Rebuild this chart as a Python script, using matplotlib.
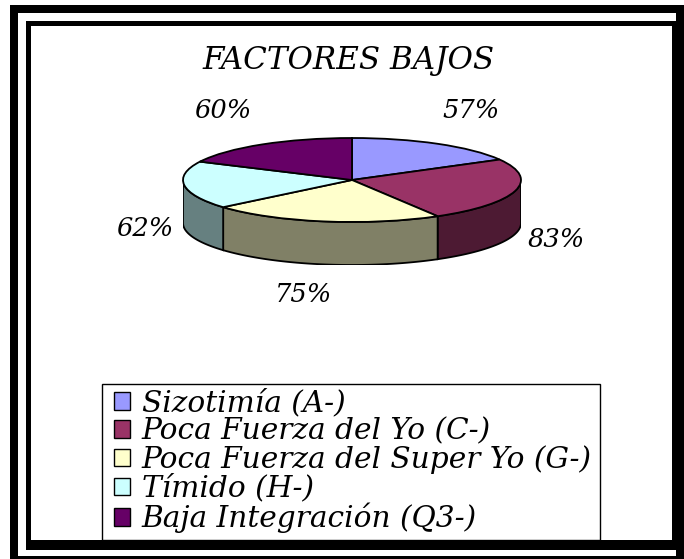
import numpy as np
import matplotlib
matplotlib.use('Agg')
import matplotlib.pyplot as plt
from matplotlib.patches import Rectangle, Polygon, Patch

# Data
categories = ['Sizotimía (A-)', 'Poca Fuerza del Yo (C-)', 'Poca Fuerza del Super Yo (G-)',
              'Tímido (H-)', 'Baja Integración (Q3-)']
values = [57, 83, 75, 62, 60]
pct_labels = ['57%', '83%', '75%', '62%', '60%']
colors = ['#9999FF', '#993366', '#FFFFCC', '#CCFFFF', '#660066']
wall_colors = ['#4D4D80', '#4D1A33', '#808066', '#668080', '#330033']
title = 'FACTORES BAJOS'

W, H = 684, 559
plt.rcParams['font.family'] = ['DejaVu Serif']
fig = plt.figure(figsize=(W / 100, H / 100), dpi=100)

# Double frame and legend box, in pixel coordinates
bg = fig.add_axes([0, 0, 1, 1])
bg.set_xlim(0, W)
bg.set_ylim(H, 0)
bg.axis('off')
for x0, y0, x1, y1, c in [(10, 5, 690, 570, 'black'), (18, 13, 676, 556, 'white'),
                          (26, 21, 678, 550, 'black'), (31, 26, 672, 540, 'white')]:
    bg.add_patch(Rectangle((x0, y0), x1 - x0, y1 - y0, fc=c, ec='none'))
bg.add_patch(Rectangle((102, 384), 498, 156, fc='white', ec='black', lw=1))

# Squashed pie: axes spans the ellipse plus the wall below it
left, right, top, mid_bottom = 183, 521, 138, 222
depth = 43 / 42
ax = fig.add_axes([left / W, 1 - (mid_bottom + 43) / H, (right - left) / W, (mid_bottom + 43 - top) / H])
wedges, _ = ax.pie(values, colors=colors, startangle=90, counterclock=False,
                   wedgeprops={'edgecolor': 'black', 'linewidth': 1.3, 'zorder': 3})
ax.set_aspect('auto')
ax.set_xlim(-1, 1)
ax.set_ylim(-1 - depth, 1)
ax.axis('off')

# Side walls, only the front half of the rim shows
cum = np.cumsum([0] + values) / sum(values) * 2 * np.pi
for i in range(len(values)):
    a0, a1 = max(cum[i], np.pi / 2), min(cum[i + 1], 3 * np.pi / 2)
    if a1 <= a0:
        continue
    t = np.linspace(a0, a1, 80)
    xs, ys = np.sin(t), np.cos(t)
    pts = np.r_[np.c_[xs, ys], np.c_[xs[::-1], ys[::-1] - depth]]
    ax.add_patch(Polygon(pts, closed=True, fc=wall_colors[i], ec='black', lw=1.3, zorder=2))

# Title and percentage labels
txt = dict(style='italic', ha='center', va='center', color='black')
fig.text(349 / W, 1 - 60 / H, title, fontsize=22.3, **txt)
pct_pos = [(471, 111), (556, 240), (303, 294), (145, 229), (223, 111)]
for lab, (px, py) in zip(pct_labels, pct_pos):
    fig.text(px / W, 1 - py / H, lab, fontsize=18.5, **txt)

# Legend
handles = [Patch(fc=c, ec='black', lw=1) for c in colors]
leg = fig.legend(handles, categories, loc='center left',
                 bbox_to_anchor=(114 / W, 1 - 461 / H), ncol=1, frameon=False,
                 prop={'style': 'italic', 'size': 21.3}, handlelength=0.54, handleheight=0.54,
                 handletextpad=0.4, labelspacing=0.0, borderpad=0, borderaxespad=0)

fig.savefig('out.png', dpi=100)
plt.close(fig)
